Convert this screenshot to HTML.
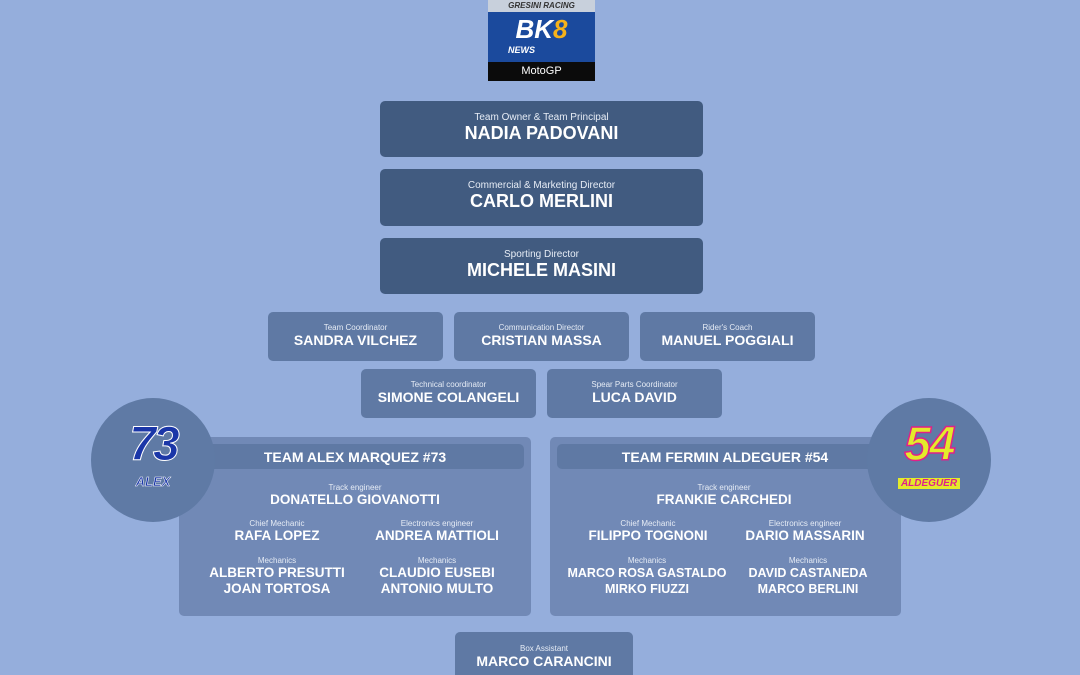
<!DOCTYPE html>
<html style="overflow:hidden;width:1080px;height:675px"><head><style>
body{margin:0;width:1080px;height:675px;background:#95aedc;position:relative;overflow:hidden;font-family:"Liberation Sans",sans-serif;color:#fff}
.b{position:absolute;border-radius:5px;text-align:center}
.d{background:#415b80}
.m{background:#5f79a4}
.l{font-size:10px;color:#e6ecf5}
.n{font-weight:bold;white-space:nowrap}
.t{position:absolute;text-align:center;width:170px}
.t .l{font-size:8px}
.t .n{font-size:13.5px;line-height:16px}
</style></head><body>
<div style="position:absolute;left:488px;top:0;width:107px;height:81px;background:#1b4a9d">
<div style="height:12px;background:#c8d0dc;color:#333;font-size:8px;font-style:italic;font-weight:bold;text-align:center;line-height:11px">GRESINI RACING</div>
<div style="height:50px;text-align:center;font-size:26px;font-weight:bold;font-style:italic;line-height:34px">BK<span style="color:#f6b21a">8</span><div style="font-size:9px;line-height:8px;margin-left:-40px">NEWS</div></div>
<div style="height:19px;background:#0b0b0b;text-align:center;font-size:11px;line-height:19px">MotoGP</div>
</div>

<div class="b d" style="left:380px;top:101px;width:323px;height:56px"><div class="l" style="margin-top:11px">Team Owner &amp; Team Principal</div><div class="n" style="font-size:18px">NADIA PADOVANI</div></div>
<div class="b d" style="left:380px;top:169px;width:323px;height:57px"><div class="l" style="margin-top:11px">Commercial &amp; Marketing Director</div><div class="n" style="font-size:18px">CARLO MERLINI</div></div>
<div class="b d" style="left:380px;top:238px;width:323px;height:56px"><div class="l" style="margin-top:11px">Sporting Director</div><div class="n" style="font-size:18px">MICHELE MASINI</div></div>

<div class="b m" style="left:268px;top:312px;width:175px;height:49px"><div class="l" style="font-size:8px;margin-top:11px">Team Coordinator</div><div class="n" style="font-size:14px">SANDRA VILCHEZ</div></div>
<div class="b m" style="left:454px;top:312px;width:175px;height:49px"><div class="l" style="font-size:8px;margin-top:11px">Communication Director</div><div class="n" style="font-size:14px">CRISTIAN MASSA</div></div>
<div class="b m" style="left:640px;top:312px;width:175px;height:49px"><div class="l" style="font-size:8px;margin-top:11px">Rider's Coach</div><div class="n" style="font-size:14px">MANUEL POGGIALI</div></div>
<div class="b m" style="left:361px;top:369px;width:175px;height:49px"><div class="l" style="font-size:8px;margin-top:11px">Technical coordinator</div><div class="n" style="font-size:14px">SIMONE COLANGELI</div></div>
<div class="b m" style="left:547px;top:369px;width:175px;height:49px"><div class="l" style="font-size:8px;margin-top:11px">Spear Parts Coordinator</div><div class="n" style="font-size:14px">LUCA DAVID</div></div>

<div class="b" style="left:179px;top:437px;width:352px;height:179px;background:#7189b6"></div>
<div class="b" style="left:187px;top:444px;width:337px;height:25px;background:#5f79a4"></div>
<div class="b" style="left:550px;top:437px;width:351px;height:179px;background:#7189b6"></div>
<div class="b" style="left:557px;top:444px;width:337px;height:25px;background:#5f79a4"></div>

<div style="position:absolute;left:91px;top:398px;width:124px;height:124px;border-radius:50%;background:#5f7aa5;text-align:center">
<div style="font-size:48px;font-weight:bold;font-style:italic;color:#1a36a8;margin-top:22px;line-height:50px;-webkit-text-stroke:1px #fff;letter-spacing:-3px">73</div>
<div style="font-size:13px;font-weight:bold;font-style:italic;color:#1a36a8;-webkit-text-stroke:0.5px #fff;margin-top:4px">ALEX</div></div>
<div style="position:absolute;left:867px;top:398px;width:124px;height:124px;border-radius:50%;background:#5f7aa5;text-align:center">
<div style="font-size:48px;font-weight:bold;font-style:italic;color:#e4ea2a;margin-top:22px;line-height:50px;-webkit-text-stroke:1.5px #e0208a;letter-spacing:-2px">54</div>
<div style="display:inline-block;margin-top:8px;font-size:10px;font-weight:bold;font-style:italic;color:#e0208a;background:#e4ea2a;padding:0 3px">ALDEGUER</div></div>

<div class="n" style="position:absolute;left:215px;top:449px;width:280px;text-align:center;font-size:14px">TEAM ALEX MARQUEZ #73</div>
<div class="n" style="position:absolute;left:585px;top:449px;width:280px;text-align:center;font-size:14px">TEAM FERMIN ALDEGUER #54</div>

<div class="t" style="left:240px;top:483px;width:230px"><div class="l">Track engineer</div><div class="n">DONATELLO GIOVANOTTI</div></div>
<div class="t" style="left:192px;top:519px"><div class="l">Chief Mechanic</div><div class="n">RAFA LOPEZ</div></div>
<div class="t" style="left:352px;top:519px"><div class="l">Electronics engineer</div><div class="n">ANDREA MATTIOLI</div></div>
<div class="t" style="left:192px;top:556px"><div class="l">Mechanics</div><div class="n">ALBERTO PRESUTTI<br>JOAN TORTOSA</div></div>
<div class="t" style="left:352px;top:556px"><div class="l">Mechanics</div><div class="n">CLAUDIO EUSEBI<br>ANTONIO MULTO</div></div>

<div class="t" style="left:639px;top:483px"><div class="l">Track engineer</div><div class="n">FRANKIE CARCHEDI</div></div>
<div class="t" style="left:563px;top:519px"><div class="l">Chief Mechanic</div><div class="n">FILIPPO TOGNONI</div></div>
<div class="t" style="left:720px;top:519px"><div class="l">Electronics engineer</div><div class="n">DARIO MASSARIN</div></div>
<div class="t" style="left:552px;top:556px;width:190px"><div class="l">Mechanics</div><div class="n" style="font-size:12.5px">MARCO ROSA GASTALDO<br>MIRKO FIUZZI</div></div>
<div class="t" style="left:723px;top:556px"><div class="l">Mechanics</div><div class="n" style="font-size:12.5px">DAVID CASTANEDA<br>MARCO BERLINI</div></div>

<div class="b m" style="left:455px;top:632px;width:178px;height:60px"><div class="l" style="font-size:8px;margin-top:12px">Box Assistant</div><div class="n" style="font-size:14px">MARCO CARANCINI</div></div>
</body></html>
